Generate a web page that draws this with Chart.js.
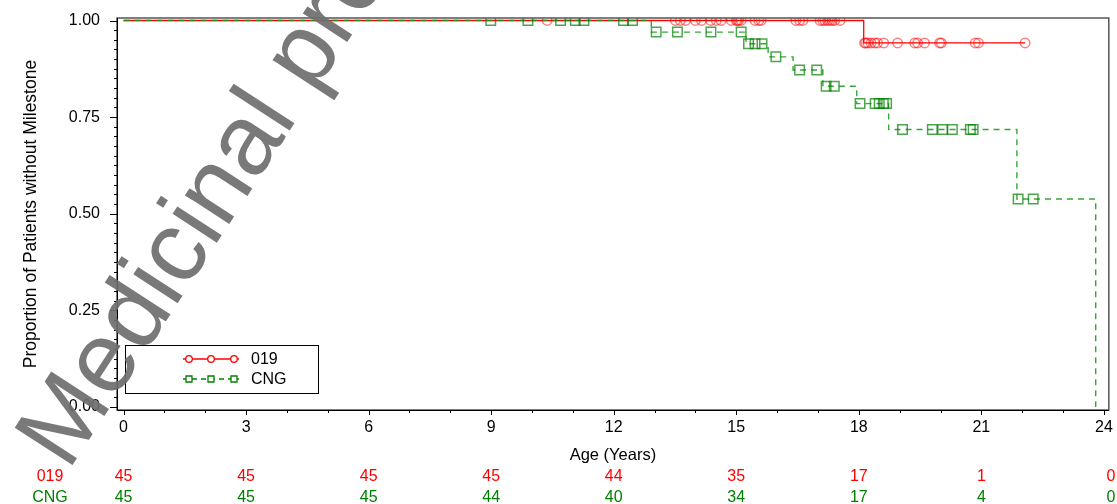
<!DOCTYPE html>
<html>
<head>
<meta charset="utf-8">
<script src="https://cdn.jsdelivr.net/npm/chart.js@4.4.0/dist/chart.umd.min.js"></script>
<style>
  html, body { margin: 0; padding: 0; background: #fff; }
</style>
</head>
<body>
<canvas id="km" width="1117" height="504"></canvas>
<script>
const groups = ["019", "CNG"];

// step curves (event times and survival after each drop)
const time019 = [0, 18.12, 22.07];
const surv019 = [1, 0.942, 0.942];
const timeCNG = [0, 12.92, 15.24, 15.78, 16.39, 17.12, 17.95, 18.73, 21.87, 23.8];
const survCNG = [1, 0.970, 0.940, 0.906, 0.872, 0.830, 0.785, 0.718, 0.538, 0];

// censored times
const cens019 = [10.37, 13.51, 13.63, 13.76, 14.0, 14.15, 14.37, 14.51, 14.63, 14.88,
  15.0, 15.03, 15.06, 15.12, 15.46, 15.55, 15.61, 16.46, 16.55, 16.63, 17.05, 17.12,
  17.17, 17.24, 17.29, 17.35, 17.41, 17.54, 18.14, 18.17, 18.22, 18.30, 18.39, 18.46,
  18.61, 18.95, 19.37, 19.44, 19.61, 19.98, 20.02, 20.85, 20.93, 22.07];
const censCNG = [8.99, 9.9, 10.7, 11.06, 11.27, 12.24, 12.46, 13.04, 13.56, 14.38, 15.12,
  15.3, 15.46, 15.63, 15.97, 16.55, 16.97, 17.2, 17.4, 18.03, 18.4, 18.5, 18.6, 18.68,
  19.07, 19.8, 20.05, 20.29, 20.73, 20.8, 21.9, 22.27];

// axis ticks and number at risk
const xTicks = [0, 3, 6, 9, 12, 15, 18, 21, 24];
const yTicks = [0, 0.25, 0.5, 0.75, 1];
const risk019 = [45, 45, 45, 45, 44, 35, 17, 1, 0];
const riskCNG = [45, 45, 45, 44, 40, 34, 17, 4, 0];

const RED = "#ff0000";
const GREEN = "#008000";
const FONT = "'Liberation Sans', Arial, sans-serif";

function survAt(times, survs, t) {
  let s = survs[0];
  for (let i = 0; i < times.length; i++) if (times[i] <= t) s = survs[i];
  return s;
}

const line019 = time019.map((t, i) => ({ x: t, y: surv019[i] }));
const lineCNG = timeCNG.map((t, i) => ({ x: t, y: survCNG[i] }));
const pts019 = cens019.map(t => ({ x: t, y: survAt(time019, surv019, t) }));
const ptsCNG = censCNG.map(t => ({ x: t, y: survAt(timeCNG, survCNG, t) }));

const extras = {
  id: "extras",
  afterDraw(chart) {
    const { ctx, chartArea: a, scales: { x, y } } = chart;
    ctx.save();
    // frame
    ctx.strokeStyle = "#555";
    ctx.lineWidth = 1.5;
    ctx.strokeRect(a.left, a.top, a.right - a.left, a.bottom - a.top);
    ctx.strokeStyle = "#000";
    ctx.lineWidth = 1;
    ctx.beginPath();
    ctx.moveTo(a.left + 0.5, a.top);
    ctx.lineTo(a.left + 0.5, a.bottom + 0.5);
    ctx.lineTo(a.right, a.bottom + 0.5);
    ctx.stroke();

    // tick marks
    ctx.beginPath();
    for (let i = 0; i <= 40; i++) {
      const py = Math.round(y.getPixelForValue(i * 0.025)) + 0.5;
      const len = i % 10 === 0 ? 7 : 3;
      ctx.moveTo(a.left - len, py);
      ctx.lineTo(a.left, py);
    }
    for (let i = 0; i <= 24; i++) {
      const px = Math.round(x.getPixelForValue(i)) + 0.5;
      const len = i % 3 === 0 ? 5 : 3;
      ctx.moveTo(px, a.bottom);
      ctx.lineTo(px, a.bottom + len);
    }
    ctx.stroke();

    // legend
    const lx = 125.5, ly = 345.5;
    ctx.fillStyle = "#fff";
    ctx.fillRect(lx, ly, 193, 48);
    ctx.strokeStyle = "#000";
    ctx.strokeRect(lx, ly, 193, 48);
    const rows = [
      { name: groups[0], color: RED, dash: [], y: 359 },
      { name: groups[1], color: GREEN, dash: [5, 4], y: 379 }
    ];
    rows.forEach((r, k) => {
      ctx.strokeStyle = r.color;
      ctx.lineWidth = 1.3;
      ctx.setLineDash(r.dash);
      ctx.beginPath();
      ctx.moveTo(183, r.y);
      ctx.lineTo(239, r.y);
      ctx.stroke();
      ctx.setLineDash([]);
      [189, 211, 234].forEach(mx => {
        ctx.beginPath();
        if (k === 0) ctx.arc(mx, r.y, 3.3, 0, Math.PI * 2);
        else ctx.rect(mx - 3, r.y - 3, 6, 6);
        ctx.fillStyle = "#fff";
        ctx.fill();
        ctx.stroke();
      });
      ctx.fillStyle = "#000";
      ctx.font = "16px " + FONT;
      ctx.textAlign = "left";
      ctx.textBaseline = "middle";
      ctx.fillText(r.name, 251, r.y + 1);
    });

    // number at risk table
    ctx.font = "16px " + FONT;
    ctx.textAlign = "center";
    ctx.textBaseline = "middle";
    [[risk019, RED, 477], [riskCNG, GREEN, 498]].forEach(([vals, col, ry], k) => {
      ctx.fillStyle = col;
      ctx.fillText(groups[k], 50, ry);
      vals.forEach((v, i) => {
        const px = i === vals.length - 1 ? x.getPixelForValue(xTicks[i]) + 7 : x.getPixelForValue(xTicks[i]);
        ctx.fillText(String(v), px, ry);
      });
    });

    // watermark
    ctx.translate(68, 472);
    ctx.rotate(-57 * Math.PI / 180);
    ctx.fillStyle = "rgba(110,110,110,0.92)";
    ctx.font = "100px " + FONT;
    ctx.textAlign = "left";
    ctx.textBaseline = "alphabetic";
    ctx.fillText("Medicinal product no longer authorised", 0, 0);
    ctx.restore();
  }
};

new Chart(document.getElementById("km"), {
  type: "scatter",
  data: {
    datasets: [
      {
        label: groups[1] + " censored",
        data: ptsCNG,
        pointStyle: "rect",
        radius: 6.7,
        borderColor: "rgba(0,128,0,0.7)",
        backgroundColor: "rgba(0,0,0,0)",
        borderWidth: 1.5,
        order: 0
      },
      {
        label: groups[0] + " censored",
        data: pts019,
        pointStyle: "circle",
        radius: 4.7,
        borderColor: "rgba(255,0,0,0.5)",
        backgroundColor: "rgba(0,0,0,0)",
        borderWidth: 1.5,
        order: 1
      },
      {
        label: groups[1],
        data: lineCNG,
        showLine: true,
        stepped: true,
        pointRadius: 0,
        borderColor: "rgba(20,150,20,0.85)",
        borderWidth: 1.4,
        borderDash: [6, 5],
        order: 2
      },
      {
        label: groups[0],
        data: line019,
        showLine: true,
        stepped: true,
        pointRadius: 0,
        borderColor: RED,
        borderWidth: 1.3,
        order: 3
      }
    ]
  },
  plugins: [extras],
  options: {
    responsive: false,
    animation: false,
    layout: { padding: { top: 18, right: 5, left: 0, bottom: 0 } },
    plugins: {
      legend: { display: false },
      tooltip: { enabled: false }
    },
    scales: {
      x: {
        type: "linear",
        min: -0.16,
        max: 24.12,
        grid: { display: false, drawTicks: false },
        border: { display: false },
        afterBuildTicks: s => { s.ticks = xTicks.map(v => ({ value: v })); },
        afterFit: s => { s.height = 94; s.paddingLeft = 0; s.paddingRight = 0; },
        ticks: {
          color: "#000",
          font: { family: FONT, size: 16 },
          padding: 8,
          maxRotation: 0,
          autoSkip: false
        },
        title: {
          display: true,
          text: "Age (Years)",
          color: "#000",
          font: { family: FONT, size: 16.5 },
          padding: { top: 0, bottom: 39 }
        }
      },
      y: {
        min: -0.0078,
        max: 1.0065,
        grid: { display: false, drawTicks: false },
        border: { display: false },
        afterBuildTicks: s => { s.ticks = yTicks.map(v => ({ value: v })); },
        afterFit: s => { s.width = 117; s.paddingTop = 0; s.paddingBottom = 0; },
        ticks: {
          color: "#000",
          font: { family: FONT, size: 16 },
          padding: 17,
          autoSkip: false,
          callback: v => v.toFixed(2)
        },
        title: {
          display: true,
          text: "Proportion of Patients without Milestone",
          color: "#000",
          font: { family: FONT, size: 17.5 },
          padding: { top: 21, bottom: 0 }
        }
      }
    }
  }
});
</script>
</body>
</html>
